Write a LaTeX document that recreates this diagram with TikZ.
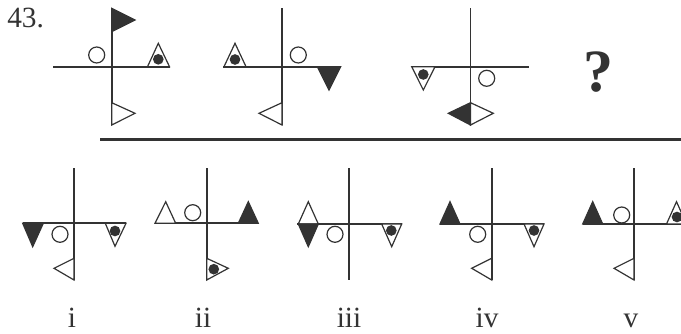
\documentclass[tikz,border=0pt]{standalone}
\usepackage{fontspec}
\setmainfont{Liberation Serif}
\definecolor{ink}{HTML}{333333}
\begin{document}
\begin{tikzpicture}[x=0.75pt,y=-0.75pt,
  axis/.style={draw=ink,line width=1.25pt},
  rule/.style={draw=ink,line width=2.2pt},
  hollow/.style={draw=ink,line width=0.9pt,line join=miter,fill=white},
  solid/.style={draw=ink,line width=0.9pt,line join=miter,fill=ink},
  ring/.style={draw=ink,line width=0.9pt,fill=white},
  dot/.style={fill=ink},
  txt/.style={text=ink,inner sep=0pt,font=\fontsize{22}{26}\selectfont}
]
\useasboundingbox (0,0) rectangle (681,334);
\clip (0,0) rectangle (681,334);
\fill[white] (0,0) rectangle (681,334);

\node[txt,anchor=base west] (num) at (7,28) {43.};

% ---- first frame
\draw[axis] (111.7,8.3) -- (111.7,125);
\draw[axis] (53,66.7) -- (170,66.7);
\draw[solid] (111.7,8.3) -- (135,20) -- (111.7,31.7) -- cycle;
\draw[ring] (96.7,55) circle[radius=6pt];
\draw[hollow] (147.5,66.7) -- (158.3,43.3) -- (169.5,66.7) -- cycle;
\fill[dot] (158.3,59.3) circle[radius=4pt];
\draw[hollow] (111.7,102.7) -- (135,113.3) -- (111.7,125) -- cycle;

% ---- second frame
\draw[axis] (282,8.3) -- (282,125);
\draw[axis] (223.3,66.7) -- (340.7,66.7);
\draw[hollow] (224,66.7) -- (235,43.3) -- (246,66.7) -- cycle;
\fill[dot] (235,59.5) circle[radius=4pt];
\draw[ring] (298.3,55) circle[radius=6pt];
\draw[solid] (317.3,66.7) -- (329,90) -- (340.7,66.7) -- cycle;
\draw[hollow] (282,102.7) -- (259,113.3) -- (282,125) -- cycle;

% ---- third frame
\draw[axis] (470.5,8.3) -- (470.5,125);
\draw[axis] (411.7,66.7) -- (529.3,66.7);
\draw[hollow] (411.7,66.7) -- (423.3,90) -- (435,66.7) -- cycle;
\fill[dot] (423.3,74.5) circle[radius=4pt];
\draw[ring] (486.7,78.3) circle[radius=6pt];
\draw[solid] (470.5,102.7) -- (448.3,113.3) -- (470.5,125) -- cycle;
\draw[hollow] (470.5,102.7) -- (493.3,113.3) -- (470.5,125) -- cycle;

\node[txt,anchor=base,font=\fontsize{45}{50}\selectfont\bfseries] (ask) at (598,92) {?};

\draw[rule] (100,139.5) -- (681,139.5);

% ---- option i
\draw[axis] (74,168.3) -- (74,280);
\draw[axis] (22.7,223.3) -- (126,223.3);
\draw[solid] (22.7,223.3) -- (32.7,246.7) -- (43.3,223.3) -- cycle;
\draw[ring] (60,234.3) circle[radius=6pt];
\draw[hollow] (105.3,223.3) -- (115,246.3) -- (126,223.3) -- cycle;
\fill[dot] (115,231) circle[radius=4pt];
\draw[hollow] (74,258.3) -- (54,268.3) -- (74,280) -- cycle;

% ---- option ii
\draw[axis] (206.7,168.3) -- (206.7,280);
\draw[axis] (155,223.3) -- (258.3,223.3);
\draw[hollow] (155,223.3) -- (165.7,201.7) -- (175.7,223.3) -- cycle;
\draw[ring] (192.7,212.7) circle[radius=6pt];
\draw[solid] (238.3,223.3) -- (248.3,201.7) -- (258.3,223.3) -- cycle;
\draw[hollow] (206.7,258.3) -- (228.3,268.3) -- (206.7,280) -- cycle;
\fill[dot] (213.8,269.2) circle[radius=4pt];

% ---- option iii
\draw[axis] (349.3,168.3) -- (349.3,280);
\draw[axis] (297.3,224) -- (401.7,224);
\draw[hollow] (298.3,224) -- (308.3,201.7) -- (318.3,224) -- cycle;
\draw[solid] (298.3,224) -- (308.3,246.7) -- (318.3,224) -- cycle;
\draw[ring] (335,234.3) circle[radius=6pt];
\draw[hollow] (381.7,224) -- (391.7,246.7) -- (401.7,224) -- cycle;
\fill[dot] (391.3,230.5) circle[radius=4pt];

% ---- option iv
\draw[axis] (491.7,168.3) -- (491.7,280);
\draw[axis] (440,224) -- (544,224);
\draw[solid] (440,224) -- (450,201.7) -- (460,224) -- cycle;
\draw[ring] (477.7,234.3) circle[radius=6pt];
\draw[hollow] (524,224) -- (534,246.7) -- (544,224) -- cycle;
\fill[dot] (534,230.5) circle[radius=4pt];
\draw[hollow] (491.7,258.3) -- (471.7,268.3) -- (491.7,280) -- cycle;

% ---- option v
\draw[axis] (634,168.3) -- (634,280);
\draw[axis] (582.7,224) -- (690,224);
\draw[solid] (582.7,224) -- (592.7,201.7) -- (602.7,224) -- cycle;
\draw[ring] (621.7,215) circle[radius=6pt];
\draw[hollow] (666.5,224) -- (676.5,201.7) -- (686.5,224) -- cycle;
\fill[dot] (677,217) circle[radius=4pt];
\draw[hollow] (634,258.3) -- (614,268.3) -- (634,280) -- cycle;

% ---- option labels
\node[txt,anchor=base] (li)   at (72,327)  {i};
\node[txt,anchor=base] (lii)  at (203,327) {ii};
\node[txt,anchor=base] (liii) at (349,327) {iii};
\node[txt,anchor=base] (liv)  at (487,327) {iv};
\node[txt,anchor=base] (lv)   at (631,327) {v};
\end{tikzpicture}
\end{document}
